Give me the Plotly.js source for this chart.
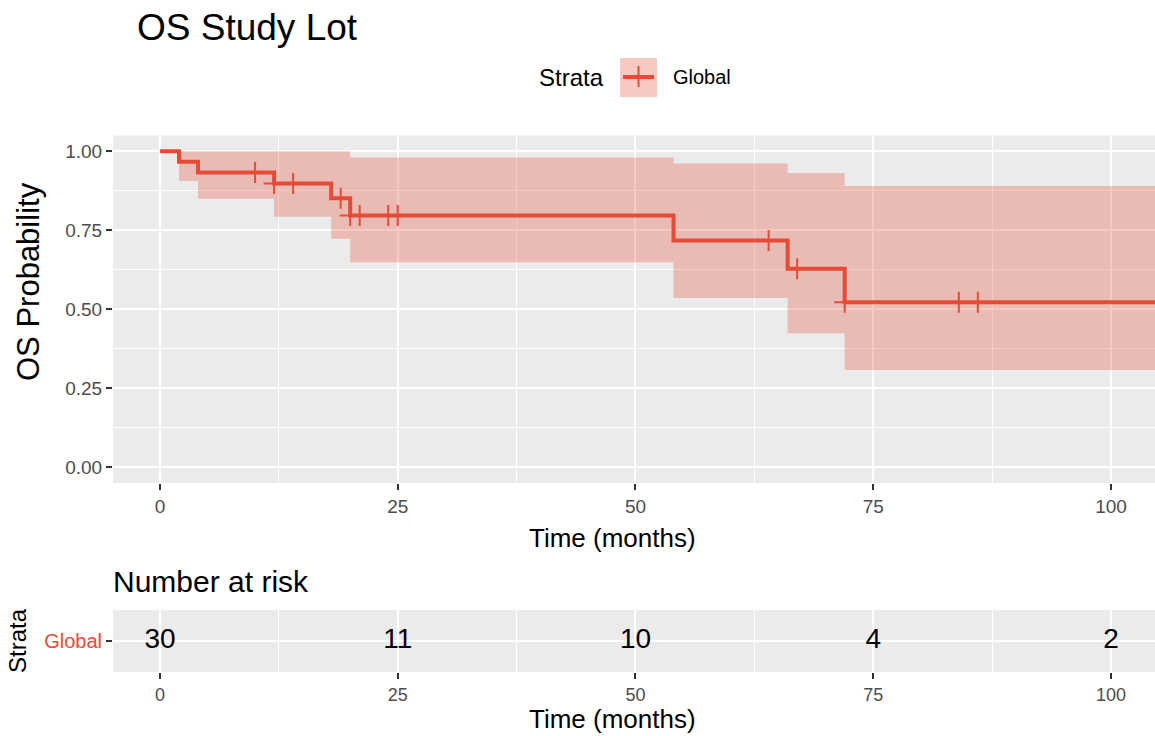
<!DOCTYPE html>
<html>
<head>
<meta charset="utf-8">
<script src="https://cdn.plot.ly/plotly-3.0.1.min.js"></script>
<style>html,body{margin:0;padding:0;background:#fff;}#chart{width:1155px;height:736px;}</style>
</head>
<body>
<div id="chart"></div>
<script>
// ---- Data ----
const stepTimes  = [0, 2, 4, 12, 18, 20, 54, 66, 72, 105];
const survProb   = [1.0, 0.967, 0.933, 0.898, 0.851, 0.797, 0.718, 0.628, 0.522, 0.522];
const upperCI    = [1.0, 1.0, 1.0, 1.0, 1.0, 0.98, 0.961, 0.931, 0.890, 0.890];
const lowerCI    = [1.0, 0.906, 0.850, 0.793, 0.723, 0.649, 0.536, 0.424, 0.308, 0.308];
const censorTimes = [10, 12, 14, 19, 20, 21, 24, 25, 64, 67, 72, 84, 86];
const riskTimes  = [0, 25, 50, 75, 100];
const riskCounts = [30, 11, 10, 4, 2];
const strataName = 'Global';
const yTickVals  = [0, 0.25, 0.5, 0.75, 1];
const yTickText  = ['0.00', '0.25', '0.50', '0.75', '1.00'];
const xTickVals  = [0, 25, 50, 75, 100];

// survival value at a censor time (from the step function above)
function survAt(t) {
  let s = survProb[0];
  for (let i = 0; i < stepTimes.length; i++) { if (stepTimes[i] <= t) s = survProb[i]; }
  return s;
}
const censorSurv = censorTimes.map(survAt);

const W = 1155, H = 736;
const RED = '#E64B35';
const BAND = 'rgba(230,75,53,0.3)';
const FONT = 'Liberation Sans, Arial, sans-serif';
const px = v => v / W;
const py = v => 1 - v / H;

const traces = [
  { x: stepTimes, y: lowerCI, type: 'scatter', mode: 'lines', line: { width: 0, shape: 'hv' },
    hoverinfo: 'skip', showlegend: false, xaxis: 'x', yaxis: 'y' },
  { x: stepTimes, y: upperCI, type: 'scatter', mode: 'lines', line: { width: 0, shape: 'hv' },
    fill: 'tonexty', fillcolor: BAND, hoverinfo: 'skip', showlegend: false, xaxis: 'x', yaxis: 'y' },
  { x: stepTimes, y: survProb, type: 'scatter', mode: 'lines', name: strataName,
    line: { color: RED, width: 4, shape: 'hv' }, showlegend: false, xaxis: 'x', yaxis: 'y' },
  { x: censorTimes, y: censorSurv, type: 'scatter', mode: 'markers',
    marker: { symbol: 'cross-thin', size: 15, color: RED, line: { color: RED, width: 2 } },
    showlegend: false, xaxis: 'x', yaxis: 'y' },
  { x: riskTimes, y: riskTimes.map(() => strataName), text: riskCounts.map(String),
    type: 'scatter', mode: 'text', textposition: 'middle center',
    textfont: { family: FONT, size: 28, color: '#000000' }, showlegend: false,
    xaxis: 'x2', yaxis: 'y2' }
];

const xCommon = {
  range: [-4.94, 104.63], tickmode: 'array', tickvals: xTickVals,
  ticks: 'outside', ticklen: 6, tickwidth: 2, tickcolor: '#333333',
  tickfont: { family: FONT, size: 19, color: '#4D4D4D' },
  showgrid: true, gridcolor: '#FFFFFF', gridwidth: 2, zeroline: false, showline: false,
  minor: { tickmode: 'linear', tick0: 12.5, dtick: 25, showgrid: true, gridcolor: '#FFFFFF', gridwidth: 1, ticks: '' },
  automargin: false, domain: [px(113), 1]
};

const ann = (text, x, y, size, extra) => Object.assign({
  text: text, xref: 'paper', yref: 'paper', x: px(x), y: py(y),
  xanchor: 'left', yanchor: 'middle', showarrow: false,
  font: { family: FONT, size: size, color: '#000000' } }, extra || {});

const layout = {
  width: W, height: H,
  margin: { l: 0, r: 0, t: 0, b: 0 },
  paper_bgcolor: '#FFFFFF', plot_bgcolor: '#EBEBEB',
  font: { family: FONT, color: '#000000' },
  showlegend: false,
  title: { text: 'OS Study Lot', x: px(137), xanchor: 'left', xref: 'container',
           y: py(27), yanchor: 'middle', yref: 'container',
           font: { family: FONT, size: 37, color: '#000000' } },
  xaxis: Object.assign({}, xCommon, { anchor: 'y' }),
  yaxis: { anchor: 'x', domain: [py(483), py(135.5)], range: [-0.05, 1.05],
    tickmode: 'array', tickvals: yTickVals, ticktext: yTickText,
    ticks: 'outside', ticklen: 6, tickwidth: 2, tickcolor: '#333333',
    tickfont: { family: FONT, size: 19, color: '#4D4D4D' },
    showgrid: true, gridcolor: '#FFFFFF', gridwidth: 2, zeroline: false, showline: false,
    minor: { tickmode: 'linear', tick0: 0.125, dtick: 0.25, showgrid: true, gridcolor: '#FFFFFF', gridwidth: 1, ticks: '' },
    automargin: false },
  xaxis2: Object.assign({}, xCommon, { anchor: 'y2',
    tickfont: { family: FONT, size: 18, color: '#4D4D4D' } }),
  yaxis2: { anchor: 'x2', domain: [py(672), py(610)], type: 'category', range: [-0.6, 0.6],
    tickmode: 'array', tickvals: [strataName], ticktext: [strataName],
    ticks: 'outside', ticklen: 6, tickwidth: 2, tickcolor: '#333333',
    tickfont: { family: FONT, size: 20, color: RED },
    showgrid: true, gridcolor: '#FFFFFF', gridwidth: 2, zeroline: false, showline: false,
    automargin: false,
    title: { text: 'Strata', font: { family: FONT, size: 24, color: '#000000' }, standoff: 10 } },
  annotations: [
    ann('Time (months)', 612, 538, 26, { xanchor: 'center' }),
    ann('Time (months)', 612, 719, 26, { xanchor: 'center' }),
    ann('OS Probability', 28, 282, 31, { xanchor: 'center', textangle: -90 }),
    ann('Number at risk', 111, 581, 30),
    ann('Strata', 537, 77, 24),
    ann(strataName, 671, 77, 20)
  ],
  shapes: [
    { type: 'rect', xref: 'paper', yref: 'paper', x0: px(620), x1: px(657), y0: py(97), y1: py(58),
      fillcolor: BAND, line: { width: 0 } },
    { type: 'line', xref: 'paper', yref: 'paper', x0: px(623), x1: px(654), y0: py(77), y1: py(77),
      line: { color: RED, width: 4 } },
    { type: 'line', xref: 'paper', yref: 'paper', x0: px(638.5), x1: px(638.5), y0: py(66), y1: py(87),
      line: { color: RED, width: 2 } }
  ]
};

Plotly.newPlot('chart', traces, layout, { displayModeBar: false, staticPlot: true });
</script>
</body>
</html>
